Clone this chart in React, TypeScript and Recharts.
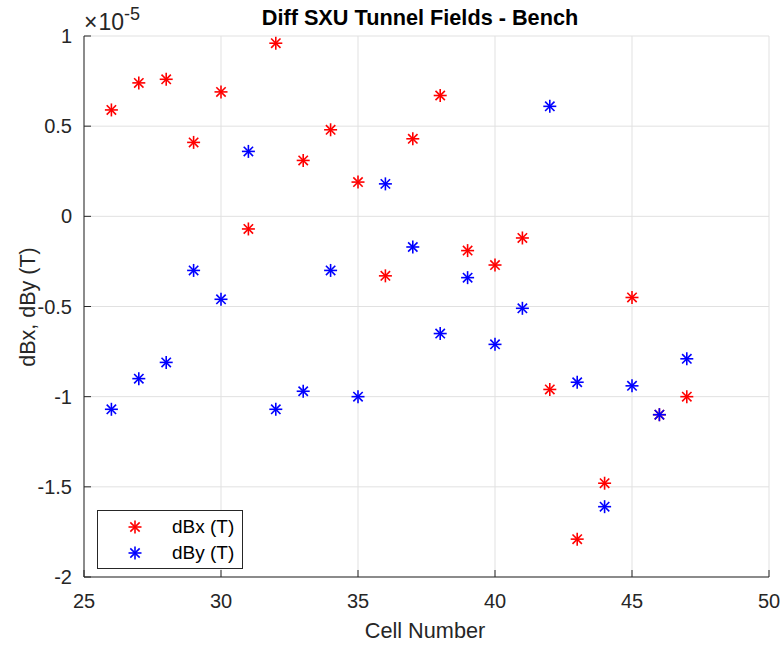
import React from 'react';
import {
  ScatterChart,
  Scatter,
  XAxis,
  YAxis,
  CartesianGrid,
  Legend,
  Customized,
} from 'recharts';

// Cell numbers along the tunnel
const cellNumbers = [
  26, 27, 28, 29, 30, 31, 32, 33, 34, 35, 36,
  37, 38, 39, 40, 41, 42, 43, 44, 45, 46, 47,
];

// Field differences, in units of 1e-5 T
const dBxValues = [
  0.59, 0.74, 0.76, 0.41, 0.69, -0.07, 0.96, 0.31, 0.48, 0.19, -0.33,
  0.43, 0.67, -0.19, -0.27, -0.12, -0.96, -1.79, -1.48, -0.45, -1.1, -1.0,
];
const dByValues = [
  -1.07, -0.9, -0.81, -0.3, -0.46, 0.36, -1.07, -0.97, -0.3, -1.0, 0.18,
  -0.17, -0.65, -0.34, -0.71, -0.51, 0.61, -0.92, -1.61, -0.94, -1.1, -0.79,
];

const xTicks = [25, 30, 35, 40, 45, 50];
const yTicks = [-2, -1.5, -1, -0.5, 0, 0.5, 1];
const seriesNames = ['dBx (T)', 'dBy (T)'];
const seriesColors = ['#ff0000', '#0000ff'];

const chartTitle = 'Diff SXU Tunnel Fields - Bench';
const xLabel = 'Cell Number';
const yLabel = 'dBx, dBy (T)';

const dBxPoints = cellNumbers.map((cell, i) => ({ cell, value: dBxValues[i] }));
const dByPoints = cellNumbers.map((cell, i) => ({ cell, value: dByValues[i] }));

const FONT = '"Liberation Sans", Arial, Helvetica, sans-serif';
const INK = '#262626';
const GRID = '#e1e1e1';

const WIDTH = 782;
const HEIGHT = 645;
const PLOT_LEFT = 84;
const PLOT_TOP = 36;
const PLOT_RIGHT = 769;
const PLOT_BOTTOM = 577;
const TICK_LEN = 7;
const TICK_FONT = 20;

function Asterisk({ cx, cy, color }: { cx: number; cy: number; color: string }) {
  const r = 6.5;
  const d = r * 0.72;
  return (
    <g stroke={color} strokeWidth={1.6} strokeLinecap="butt">
      <line x1={cx - r} y1={cy} x2={cx + r} y2={cy} />
      <line x1={cx} y1={cy - r} x2={cx} y2={cy + r} />
      <line x1={cx - d} y1={cy - d} x2={cx + d} y2={cy + d} />
      <line x1={cx - d} y1={cy + d} x2={cx + d} y2={cy - d} />
    </g>
  );
}

function XTick(props: any) {
  const { x, y, payload } = props;
  return (
    <g>
      <line x1={x} y1={PLOT_BOTTOM} x2={x} y2={PLOT_BOTTOM - TICK_LEN} stroke={INK} strokeWidth={1} />
      <text x={x} y={y + 31} textAnchor="middle" fontFamily={FONT} fontSize={TICK_FONT} fill={INK}>
        {String(payload.value)}
      </text>
    </g>
  );
}

function YTick(props: any) {
  const { y, payload } = props;
  return (
    <g>
      <line x1={PLOT_LEFT} y1={y} x2={PLOT_LEFT + TICK_LEN} y2={y} stroke={INK} strokeWidth={1} />
      <text x={72} y={y + 7} textAnchor="end" fontFamily={FONT} fontSize={TICK_FONT} fill={INK}>
        {String(payload.value)}
      </text>
    </g>
  );
}

function LegendBox() {
  return (
    <svg width={146} height={59} style={{ display: 'block' }}>
      <rect x={0.5} y={0.5} width={145} height={58} fill="#ffffff" stroke={INK} strokeWidth={1} />
      {seriesNames.map((name, i) => (
        <g key={name}>
          <Asterisk cx={38} cy={17 + i * 26} color={seriesColors[i]} />
          <text x={75} y={23 + i * 26} fontFamily={FONT} fontSize={19} fill="#000000">
            {name}
          </text>
        </g>
      ))}
    </svg>
  );
}

function Annotations() {
  return (
    <g>
      <text
        x={420}
        y={25}
        textAnchor="middle"
        fontFamily={FONT}
        fontSize={21.7}
        fontWeight="bold"
        fill="#000000"
      >
        {chartTitle}
      </text>
      <text x={425} y={638} textAnchor="middle" fontFamily={FONT} fontSize={21.7} fill={INK}>
        {xLabel}
      </text>
      <text
        x={35}
        y={307}
        textAnchor="middle"
        transform="rotate(-90 35 307)"
        fontFamily={FONT}
        fontSize={21.5}
        fill={INK}
      >
        {yLabel}
      </text>
      <text x={84} y={30} fontFamily={FONT} fontSize={23} fill={INK}>
        <tspan>×</tspan>
        <tspan dx={1}>10</tspan>
        <tspan dy={-10} fontSize={18}>-5</tspan>
      </text>
    </g>
  );
}

export default function App() {
  return (
    <div style={{ position: 'absolute', left: 0, top: 0, width: WIDTH, height: HEIGHT, background: '#ffffff' }}>
      <ScatterChart
        width={WIDTH}
        height={HEIGHT}
        margin={{ top: PLOT_TOP, right: WIDTH - PLOT_RIGHT, bottom: 0, left: 0 }}
      >
        <CartesianGrid stroke={GRID} strokeWidth={1} />
        <XAxis
          type="number"
          dataKey="cell"
          domain={[25, 50]}
          ticks={xTicks}
          allowDataOverflow
          height={HEIGHT - PLOT_BOTTOM}
          tickSize={0}
          tickMargin={0}
          tickLine={false}
          axisLine={{ stroke: INK, strokeWidth: 1 }}
          tick={(p: any) => <XTick {...p} />}
          interval={0}
        />
        <YAxis
          type="number"
          dataKey="value"
          domain={[-2, 1]}
          ticks={yTicks}
          allowDataOverflow
          width={PLOT_LEFT}
          tickSize={0}
          tickMargin={0}
          tickLine={false}
          axisLine={{ stroke: INK, strokeWidth: 1 }}
          tick={(p: any) => <YTick {...p} />}
          interval={0}
        />
        <Scatter
          name={seriesNames[0]}
          data={dBxPoints}
          isAnimationActive={false}
          shape={(p: any) => <Asterisk cx={p.cx} cy={p.cy} color={seriesColors[0]} />}
        />
        <Scatter
          name={seriesNames[1]}
          data={dByPoints}
          isAnimationActive={false}
          shape={(p: any) => <Asterisk cx={p.cx} cy={p.cy} color={seriesColors[1]} />}
        />
        <Legend
          layout="vertical"
          align="center"
          verticalAlign="middle"
          wrapperStyle={{ position: 'absolute', left: 97, top: 510, width: 146, height: 59 }}
          content={() => <LegendBox />}
        />
        <Customized component={() => <Annotations />} />
      </ScatterChart>
    </div>
  );
}
